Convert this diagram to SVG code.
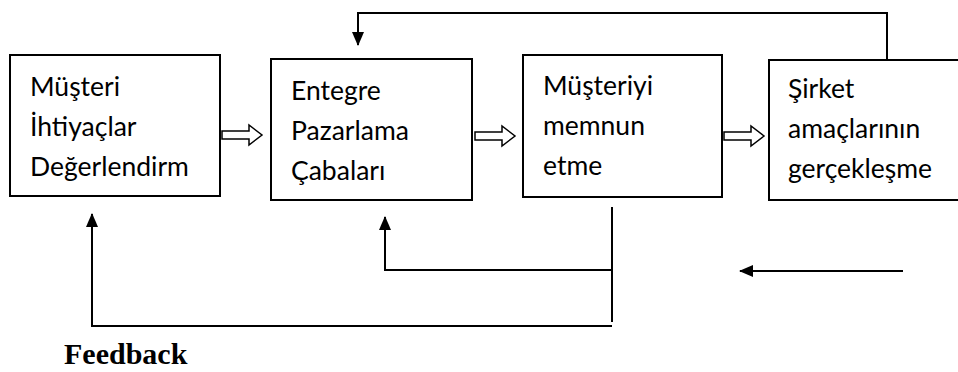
<svg xmlns="http://www.w3.org/2000/svg" width="958" height="372" viewBox="0 0 958 372">
  <style>
    .box { fill: #ffffff; stroke: #000000; stroke-width: 2; }
    .lbl { font-family: Lato, "Open Sans", "Liberation Sans", sans-serif; font-size: 26.5px; fill: #000000; }
    .wire { fill: none; stroke: #000000; stroke-width: 2; }
    .hollow { fill: #ffffff; stroke: #000000; stroke-width: 1.5; stroke-linejoin: miter; }
    .title { font-family: "Liberation Serif", "Times New Roman", serif; font-size: 30px; font-weight: bold; fill: #000000; }
  </style>
  <defs>
    <marker id="head" viewBox="0 0 14 12" refX="13" refY="6" markerWidth="7" markerHeight="6" markerUnits="strokeWidth" orient="auto">
      <path d="M0,0 L14,6 L0,12 Z" fill="#000000"/>
    </marker>
    <!-- hollow block arrow pointing right, 40 long -->
    <path id="blockArrow" d="M0,-4 H27 V-10 L40,0 L27,10 V4 H0 Z"/>
  </defs>

  <g id="connectors">
    <!-- loop from the last stage back over the top to the second stage -->
    <path class="wire" d="M887,60 V13 H358 V45" marker-end="url(#head)"/>
    <!-- loop from the third stage back under to the second stage -->
    <path class="wire" d="M612,207 V322"/>
    <path class="wire" d="M612,270 H385 V217" marker-end="url(#head)"/>
    <!-- long loop back to the first stage -->
    <path class="wire" d="M612,326 H92 V214" marker-end="url(#head)"/>
    <!-- loose arrow at lower right -->
    <path class="wire" d="M903,271 H740" marker-end="url(#head)"/>
    <!-- forward flow between stages -->
    <use href="#blockArrow" class="hollow" x="222" y="135"/>
    <use href="#blockArrow" class="hollow" x="475" y="136"/>
    <use href="#blockArrow" class="hollow" x="724" y="136"/>
  </g>

  <g id="stage-needs">
    <rect class="box" x="10" y="55" width="210" height="141"/>
    <text class="lbl" x="30" y="96">Müşteri</text>
    <text class="lbl" x="30" y="136">İhtiyaçlar</text>
    <text class="lbl" x="30" y="176">Değerlendirm</text>
  </g>

  <g id="stage-marketing">
    <rect class="box" x="271" y="59" width="201" height="141"/>
    <text class="lbl" x="291" y="100">Entegre</text>
    <text class="lbl" x="291" y="140">Pazarlama</text>
    <text class="lbl" x="291" y="180">Çabaları</text>
  </g>

  <g id="stage-satisfaction">
    <rect class="box" x="523" y="55" width="199" height="142"/>
    <text class="lbl" x="543" y="95">Müşteriyi</text>
    <text class="lbl" x="543" y="135">memnun</text>
    <text class="lbl" x="543" y="175">etme</text>
  </g>

  <g id="stage-goals">
    <rect class="box" x="769" y="60" width="200" height="140"/>
    <text class="lbl" x="788" y="98">Şirket</text>
    <text class="lbl" x="788" y="138">amaçlarının</text>
    <text class="lbl" x="788" y="178">gerçekleşme</text>
  </g>

  <text class="title" x="64" y="364">Feedback</text>
</svg>
